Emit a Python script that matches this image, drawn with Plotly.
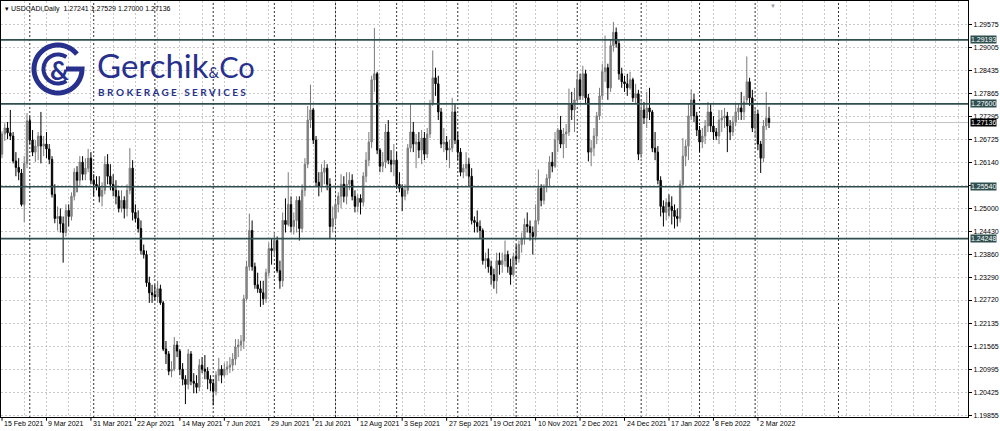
import numpy as np
import pandas as pd
import plotly.graph_objects as go

# ---------------- DATA (USDCAD daily) ----------------
open_ = [
    1.2635, 1.2685, 1.2700, 1.2688, 1.2680,
    1.2618, 1.2602, 1.2588, 1.2510, 1.2612,
    1.2718, 1.2670, 1.2640, 1.2655, 1.2680,
    1.2655, 1.2660, 1.2648, 1.2622, 1.2535,
    1.2475, 1.2480, 1.2462, 1.2440, 1.2495,
    1.2480, 1.2530, 1.2590, 1.2570, 1.2615,
    1.2585, 1.2600, 1.2625, 1.2570, 1.2560,
    1.2555, 1.2530, 1.2545, 1.2610, 1.2580,
    1.2560, 1.2545, 1.2530, 1.2500, 1.2520,
    1.2500, 1.2545, 1.2600, 1.2490, 1.2475,
    1.2450, 1.2395, 1.2385, 1.2315, 1.2290,
    1.2285, 1.2280, 1.2300, 1.2265, 1.2150,
    1.2138, 1.2095, 1.2100, 1.2160, 1.2145,
    1.2100, 1.2075, 1.2062, 1.2138, 1.2070,
    1.2065, 1.2055, 1.2110, 1.2100, 1.2095,
    1.2075, 1.2065, 1.2045, 1.2085, 1.2100,
    1.2085, 1.2100, 1.2105, 1.2110, 1.2125,
    1.2155, 1.2160, 1.2170, 1.2275, 1.2355,
    1.2445, 1.2355, 1.2310, 1.2300, 1.2290,
    1.2275, 1.2340, 1.2400, 1.2395, 1.2420,
    1.2345, 1.2320, 1.2470, 1.2460, 1.2510,
    1.2455, 1.2470, 1.2520, 1.2450, 1.2545,
    1.2610, 1.2720, 1.2745, 1.2670, 1.2565,
    1.2555, 1.2590, 1.2600, 1.2560, 1.2455,
    1.2475, 1.2510, 1.2530, 1.2560, 1.2530,
    1.2560, 1.2570, 1.2530, 1.2505, 1.2525,
    1.2515, 1.2580, 1.2620, 1.2665, 1.2820,
    1.2835, 1.2645, 1.2605, 1.2615, 1.2690,
    1.2620, 1.2610, 1.2620, 1.2560, 1.2550,
    1.2530, 1.2545, 1.2650, 1.2690, 1.2660,
    1.2665, 1.2645, 1.2675, 1.2635, 1.2685,
    1.2760, 1.2825, 1.2810, 1.2740, 1.2660,
    1.2665, 1.2645, 1.2650, 1.2740, 1.2670,
    1.2640, 1.2590, 1.2600, 1.2610, 1.2580,
    1.2470, 1.2465, 1.2455, 1.2445, 1.2370,
    1.2375, 1.2355, 1.2335, 1.2320, 1.2370,
    1.2360, 1.2370, 1.2385, 1.2355, 1.2335,
    1.2380, 1.2375, 1.2410, 1.2425, 1.2460,
    1.2455, 1.2440, 1.2430, 1.2470, 1.2550,
    1.2520, 1.2555, 1.2575, 1.2615, 1.2605,
    1.2670, 1.2695, 1.2660, 1.2685, 1.2690,
    1.2760, 1.2745, 1.2770, 1.2820, 1.2780,
    1.2835, 1.2775, 1.2640, 1.2650, 1.2680,
    1.2730, 1.2780, 1.2840, 1.2850, 1.2800,
    1.2905, 1.2938, 1.2910, 1.2835, 1.2815,
    1.2810, 1.2800, 1.2820, 1.2775, 1.2785,
    1.2635, 1.2745, 1.2725, 1.2750, 1.2740,
    1.2650, 1.2640, 1.2570, 1.2505, 1.2490,
    1.2515, 1.2505, 1.2495, 1.2480, 1.2475,
    1.2560, 1.2630, 1.2655, 1.2730, 1.2770,
    1.2730, 1.2695, 1.2665, 1.2680, 1.2705,
    1.2740, 1.2705, 1.2690, 1.2680, 1.2720,
    1.2725, 1.2730, 1.2705, 1.2690, 1.2715,
    1.2740, 1.2750, 1.2740, 1.2770, 1.2815,
    1.2775, 1.2700, 1.2735, 1.2660, 1.2625,
    1.2705, 1.27241,
]
high = [
    1.2692, 1.2712, 1.2715, 1.2745, 1.2690,
    1.2640, 1.2625, 1.2598, 1.2630, 1.2737,
    1.2730, 1.2695, 1.2670, 1.2690, 1.2740,
    1.2680, 1.2690, 1.2660, 1.2630, 1.2560,
    1.2505, 1.2500, 1.2480, 1.2510, 1.2510,
    1.2540, 1.2600, 1.2605, 1.2630, 1.2630,
    1.2625, 1.2648, 1.2640, 1.2585, 1.2580,
    1.2580, 1.2565, 1.2630, 1.2635, 1.2610,
    1.2585, 1.2570, 1.2545, 1.2545, 1.2530,
    1.2560, 1.2650, 1.2620, 1.2510, 1.2495,
    1.2470, 1.2410, 1.2395, 1.2330, 1.2310,
    1.2310, 1.2320, 1.2310, 1.2270, 1.2170,
    1.2145, 1.2120, 1.2180, 1.2170, 1.2150,
    1.2115, 1.2085, 1.2150, 1.2145, 1.2090,
    1.2085, 1.2125, 1.2130, 1.2135, 1.2105,
    1.2085, 1.2075, 1.2095, 1.2128, 1.2110,
    1.2115, 1.2120, 1.2130, 1.2140, 1.2175,
    1.2175, 1.2185, 1.2285, 1.2370, 1.2487,
    1.2470, 1.2365, 1.2340, 1.2320, 1.2320,
    1.2350, 1.2415, 1.2425, 1.2440, 1.2430,
    1.2370, 1.2490, 1.2525, 1.2590, 1.2530,
    1.2490, 1.2530, 1.2530, 1.2560, 1.2625,
    1.2755, 1.2808, 1.2750, 1.2680, 1.2590,
    1.2610, 1.2620, 1.2610, 1.2575, 1.2505,
    1.2520, 1.2540, 1.2585, 1.2580, 1.2590,
    1.2590, 1.2585, 1.2545, 1.2535, 1.2535,
    1.2590, 1.2640, 1.2690, 1.2830, 1.2949,
    1.2840, 1.2650, 1.2640, 1.2710, 1.2720,
    1.2645, 1.2660, 1.2640, 1.2590, 1.2560,
    1.2560, 1.2660, 1.2761, 1.2715, 1.2685,
    1.2690, 1.2695, 1.2690, 1.2700, 1.2770,
    1.2893, 1.2850, 1.2830, 1.2750, 1.2700,
    1.2680, 1.2670, 1.2775, 1.2760, 1.2690,
    1.2650, 1.2610, 1.2640, 1.2625, 1.2600,
    1.2480, 1.2495, 1.2470, 1.2450, 1.2390,
    1.2400, 1.2370, 1.2350, 1.2390, 1.2390,
    1.2390, 1.2420, 1.2395, 1.2375, 1.2390,
    1.2410, 1.2420, 1.2440, 1.2475, 1.2490,
    1.2470, 1.2455, 1.2510, 1.2597, 1.2560,
    1.2560, 1.2585, 1.2630, 1.2640, 1.2690,
    1.2700, 1.2730, 1.2700, 1.2710, 1.2798,
    1.2790, 1.2800, 1.2838, 1.2835, 1.2855,
    1.2845, 1.2785, 1.2670, 1.2700, 1.2740,
    1.2800, 1.2860, 1.2930, 1.2860, 1.2920,
    1.2964, 1.2950, 1.2920, 1.2850, 1.2830,
    1.2835, 1.2840, 1.2825, 1.2810, 1.2795,
    1.2770, 1.2765, 1.2790, 1.2800, 1.2745,
    1.2690, 1.2655, 1.2580, 1.2520, 1.2525,
    1.2535, 1.2530, 1.2510, 1.2500, 1.2570,
    1.2675, 1.2670, 1.2760, 1.2796, 1.2785,
    1.2740, 1.2705, 1.2700, 1.2720, 1.2765,
    1.2760, 1.2730, 1.2700, 1.2745, 1.2745,
    1.2750, 1.2740, 1.2720, 1.2730, 1.2760,
    1.2760, 1.2790, 1.2780, 1.2878, 1.2825,
    1.2795, 1.2750, 1.2745, 1.2668, 1.2720,
    1.2790, 1.27529,
]
low = [
    1.2625, 1.2668, 1.2672, 1.2670, 1.2612,
    1.2580, 1.2570, 1.2505, 1.2466, 1.2600,
    1.2660, 1.2630, 1.2615, 1.2620, 1.2612,
    1.2630, 1.2625, 1.2610, 1.2527, 1.2463,
    1.2445, 1.2440, 1.2365, 1.2430, 1.2455,
    1.2470, 1.2520, 1.2540, 1.2555, 1.2570,
    1.2570, 1.2590, 1.2560, 1.2530, 1.2545,
    1.2515, 1.2505, 1.2535, 1.2560, 1.2545,
    1.2530, 1.2510, 1.2490, 1.2490, 1.2475,
    1.2480, 1.2535, 1.2470, 1.2465, 1.2440,
    1.2385, 1.2375, 1.2305, 1.2265, 1.2265,
    1.2270, 1.2265, 1.2260, 1.2145, 1.2113,
    1.2085, 1.2080, 1.2095, 1.2130, 1.2085,
    1.2060, 1.2013, 1.2050, 1.2060, 1.2040,
    1.2040, 1.2045, 1.2090, 1.2075, 1.2050,
    1.2045, 1.2010, 1.2035, 1.2070, 1.2065,
    1.2080, 1.2085, 1.2090, 1.2095, 1.2110,
    1.2130, 1.2145, 1.2150, 1.2270, 1.2345,
    1.2345, 1.2300, 1.2290, 1.2255, 1.2260,
    1.2265, 1.2330, 1.2360, 1.2380, 1.2340,
    1.2300, 1.2305, 1.2440, 1.2455, 1.2440,
    1.2435, 1.2440, 1.2420, 1.2440, 1.2530,
    1.2600, 1.2700, 1.2660, 1.2555, 1.2530,
    1.2540, 1.2560, 1.2545, 1.2425, 1.2440,
    1.2460, 1.2490, 1.2500, 1.2515, 1.2510,
    1.2545, 1.2520, 1.2490, 1.2490, 1.2485,
    1.2505, 1.2565, 1.2605, 1.2650, 1.2790,
    1.2635, 1.2590, 1.2590, 1.2600, 1.2610,
    1.2590, 1.2580, 1.2550, 1.2540, 1.2493,
    1.2520, 1.2535, 1.2640, 1.2640, 1.2600,
    1.2625, 1.2610, 1.2620, 1.2625, 1.2675,
    1.2755, 1.2780, 1.2720, 1.2650, 1.2640,
    1.2620, 1.2600, 1.2640, 1.2660, 1.2620,
    1.2580, 1.2575, 1.2580, 1.2555, 1.2460,
    1.2440, 1.2440, 1.2425, 1.2360, 1.2350,
    1.2340, 1.2310, 1.2300, 1.2288, 1.2335,
    1.2340, 1.2355, 1.2340, 1.2310, 1.2330,
    1.2360, 1.2365, 1.2390, 1.2410, 1.2440,
    1.2420, 1.2385, 1.2420, 1.2460, 1.2505,
    1.2510, 1.2540, 1.2555, 1.2590, 1.2600,
    1.2640, 1.2650, 1.2625, 1.2650, 1.2680,
    1.2720, 1.2690, 1.2760, 1.2770, 1.2770,
    1.2760, 1.2617, 1.2605, 1.2630, 1.2660,
    1.2720, 1.2770, 1.2815, 1.2770, 1.2790,
    1.2890, 1.2900, 1.2820, 1.2800, 1.2790,
    1.2780, 1.2795, 1.2765, 1.2760, 1.2620,
    1.2625, 1.2710, 1.2700, 1.2720, 1.2640,
    1.2620, 1.2560, 1.2480, 1.2455, 1.2470,
    1.2480, 1.2460, 1.2450, 1.2455, 1.2465,
    1.2550, 1.2605, 1.2620, 1.2720, 1.2715,
    1.2680, 1.2640, 1.2650, 1.2660, 1.2690,
    1.2690, 1.2670, 1.2670, 1.2660, 1.2690,
    1.2700, 1.2640, 1.2670, 1.2680, 1.2705,
    1.2720, 1.2720, 1.2720, 1.2760, 1.2755,
    1.2690, 1.2675, 1.2645, 1.2588, 1.2615,
    1.2695, 1.27000,
]
close = [
    1.2685, 1.2700, 1.2688, 1.2680, 1.2618,
    1.2602, 1.2590, 1.2510, 1.2612, 1.2718,
    1.2670, 1.2640, 1.2655, 1.2680, 1.2655,
    1.2660, 1.2648, 1.2622, 1.2535, 1.2475,
    1.2480, 1.2462, 1.2440, 1.2495, 1.2480,
    1.2530, 1.2590, 1.2570, 1.2615, 1.2585,
    1.2600, 1.2625, 1.2570, 1.2560, 1.2555,
    1.2530, 1.2545, 1.2610, 1.2580, 1.2560,
    1.2545, 1.2530, 1.2500, 1.2520, 1.2500,
    1.2545, 1.2600, 1.2490, 1.2475, 1.2450,
    1.2395, 1.2385, 1.2315, 1.2290, 1.2285,
    1.2280, 1.2300, 1.2265, 1.2150, 1.2138,
    1.2095, 1.2100, 1.2160, 1.2145, 1.2100,
    1.2075, 1.2062, 1.2138, 1.2070, 1.2065,
    1.2055, 1.2110, 1.2100, 1.2095, 1.2075,
    1.2065, 1.2045, 1.2085, 1.2100, 1.2085,
    1.2100, 1.2105, 1.2110, 1.2125, 1.2155,
    1.2160, 1.2170, 1.2275, 1.2355, 1.2445,
    1.2355, 1.2310, 1.2300, 1.2290, 1.2275,
    1.2340, 1.2400, 1.2395, 1.2420, 1.2345,
    1.2320, 1.2470, 1.2460, 1.2510, 1.2455,
    1.2470, 1.2520, 1.2450, 1.2545, 1.2610,
    1.2720, 1.2745, 1.2670, 1.2565, 1.2555,
    1.2590, 1.2600, 1.2560, 1.2455, 1.2475,
    1.2510, 1.2530, 1.2560, 1.2530, 1.2560,
    1.2570, 1.2530, 1.2505, 1.2525, 1.2515,
    1.2580, 1.2620, 1.2665, 1.2820, 1.2835,
    1.2645, 1.2605, 1.2615, 1.2690, 1.2620,
    1.2610, 1.2620, 1.2560, 1.2550, 1.2530,
    1.2545, 1.2650, 1.2690, 1.2660, 1.2665,
    1.2645, 1.2675, 1.2635, 1.2685, 1.2760,
    1.2825, 1.2810, 1.2740, 1.2660, 1.2665,
    1.2645, 1.2650, 1.2740, 1.2670, 1.2640,
    1.2590, 1.2600, 1.2610, 1.2580, 1.2470,
    1.2465, 1.2455, 1.2445, 1.2370, 1.2375,
    1.2355, 1.2335, 1.2320, 1.2370, 1.2360,
    1.2370, 1.2385, 1.2355, 1.2335, 1.2380,
    1.2375, 1.2410, 1.2425, 1.2460, 1.2455,
    1.2440, 1.2430, 1.2470, 1.2550, 1.2520,
    1.2555, 1.2575, 1.2615, 1.2605, 1.2670,
    1.2695, 1.2660, 1.2685, 1.2690, 1.2760,
    1.2745, 1.2770, 1.2820, 1.2780, 1.2835,
    1.2775, 1.2640, 1.2650, 1.2680, 1.2730,
    1.2780, 1.2840, 1.2850, 1.2800, 1.2905,
    1.2938, 1.2910, 1.2835, 1.2815, 1.2810,
    1.2800, 1.2820, 1.2775, 1.2785, 1.2635,
    1.2745, 1.2725, 1.2750, 1.2740, 1.2650,
    1.2640, 1.2570, 1.2505, 1.2490, 1.2515,
    1.2505, 1.2495, 1.2480, 1.2475, 1.2560,
    1.2630, 1.2655, 1.2730, 1.2770, 1.2730,
    1.2695, 1.2665, 1.2680, 1.2705, 1.2740,
    1.2705, 1.2690, 1.2680, 1.2720, 1.2725,
    1.2730, 1.2705, 1.2690, 1.2715, 1.2740,
    1.2750, 1.2740, 1.2765, 1.2815, 1.2775,
    1.2700, 1.2735, 1.2660, 1.2625, 1.2705,
    1.2725, 1.27136,
]

first_day = "2021-02-15"
levels = [1.29193, 1.27600, 1.25540, 1.24248]
last_price = 1.27136
header_ohlc = ["1.27241", "1.27529", "1.27000", "1.27136"]
y_ticks = [1.29575, 1.29005, 1.28435, 1.27865, 1.27295, 1.26725, 1.26140,
           1.25570, 1.25000, 1.24430, 1.23860, 1.23290, 1.22720, 1.22135,
           1.21565, 1.20995, 1.20425, 1.19855]
hidden_tick = 1.25570  # covered by the 1.25540 level box in the reference
x_label_dates = ["2021-02-15", "2021-03-09", "2021-03-31", "2021-04-22",
                 "2021-05-14", "2021-06-07", "2021-06-29", "2021-07-21",
                 "2021-08-12", "2021-09-03", "2021-09-27", "2021-10-19",
                 "2021-11-10", "2021-12-02", "2021-12-24", "2022-01-17",
                 "2022-02-08", "2022-03-02"]
separator_dates = ["2021-03-01", "2021-04-01", "2021-05-03", "2021-06-01",
                   "2021-07-01", "2021-08-02", "2021-09-01", "2021-10-01",
                   "2021-11-01", "2021-12-01", "2022-01-03", "2022-02-01",
                   "2022-03-01", "2022-04-12"]

dates = pd.bdate_range(first_day, periods=len(close))
grid_dates = pd.bdate_range(first_day, periods=360)[::8]

# ---------------- STYLE ----------------
FONT = "Liberation Sans Narrow, Arial Narrow, Liberation Sans, Arial, sans-serif"
LOGO_FONT = "Lato, Open Sans, sans-serif"
LEVEL_COLOR = "#2F4F4F"
NAVY = "#27308d"
GRID = "#c9c9c9"

fig = go.Figure()
fig.add_trace(go.Candlestick(
    x=dates, open=open_, high=high, low=low, close=close,
    increasing=dict(line=dict(color="#7a7a7a", width=1), fillcolor="#8c8c8c"),
    decreasing=dict(line=dict(color="#000000", width=1), fillcolor="#000000"),
    whiskerwidth=0, showlegend=False, hoverinfo="skip",
))

shapes = []
for d in separator_dates:
    shapes.append(dict(type="line", xref="x", yref="paper", x0=d, x1=d, y0=0, y1=1,
                       line=dict(color="#333333", width=1, dash="2px,2px"), layer="below"))
for lv in levels:
    shapes.append(dict(type="line", xref="paper", yref="y", x0=0, x1=1, y0=lv, y1=lv,
                       line=dict(color=LEVEL_COLOR, width=1.6), layer="above"))
shapes.append(dict(type="line", xref="paper", yref="y", x0=0, x1=1, y0=last_price,
                   y1=last_price, line=dict(color="#c4c4c4", width=1), layer="below"))
for d in x_label_dates:
    shapes.append(dict(type="line", xref="x", yref="paper", x0=d, x1=d, y0=0, y1=-0.009,
                       line=dict(color="#000000", width=1)))

# ---- logo ----
W, H = 967.0, 416.0
def px(X):
    return (X - 1) / W
def py(Y):
    return 1 - (Y - 1) / H

cx, cy = 58, 69
def arc_path(r, a0, a1, extra=""):
    ang = np.radians(np.linspace(a0, a1, 60))
    pts = [f"{r*np.cos(a):.2f},{r*np.sin(a):.2f}" for a in ang]
    return "M" + " L".join(pts) + extra

shapes.append(dict(type="path", xref="paper", yref="paper", xsizemode="pixel",
                   ysizemode="pixel", xanchor=px(cx), yanchor=py(cy),
                   path=arc_path(24, 38, 360, " L8,0"),
                   line=dict(color=NAVY, width=5)))
shapes.append(dict(type="path", xref="paper", yref="paper", xsizemode="pixel",
                   ysizemode="pixel", xanchor=px(cx), yanchor=py(cy),
                   path=arc_path(14.5, 55, 305),
                   line=dict(color=NAVY, width=4)))

annotations = []
annotations.append(dict(xref="paper", yref="paper", x=px(cx + 1), y=py(cy + 1),
                        text="<b>&amp;</b>", showarrow=False, xanchor="center",
                        yanchor="middle", font=dict(family=LOGO_FONT, size=26, color=NAVY)))
annotations.append(dict(xref="paper", yref="paper", x=px(95), y=py(65), height=32,
                        valign="middle",
                        text="Gerchik<span style='font-size:15px'>&amp;</span>"
                             "<span style='font-size:29px'>Co</span>",
                        showarrow=False, xanchor="left", yanchor="middle",
                        font=dict(family=LOGO_FONT, size=33, color=NAVY)))
annotations.append(dict(xref="paper", yref="paper", x=px(96), y=py(92),
                        text="<b>B R O K E R A G E   S E R V I C E S</b>",
                        showarrow=False, xanchor="left", yanchor="middle",
                        font=dict(family=LOGO_FONT, size=10, color=NAVY)))

annotations.append(dict(xref="paper", yref="paper", x=0, y=1, xshift=2, yshift=-2,
                        xanchor="left", yanchor="top", showarrow=False,
                        text="▾ USDCADi,Daily  " + " ".join(header_ohlc),
                        font=dict(family=FONT, size=7, color="#000000")))
annotations.append(dict(xref="paper", yref="paper", x=px(773), y=1, yshift=1,
                        xanchor="center", yanchor="top", showarrow=False, text="▼",
                        font=dict(size=6, color="#9a9a9a")))

for d in x_label_dates:
    ts = pd.Timestamp(d)
    annotations.append(dict(xref="x", yref="paper", x=d, y=0, yshift=-1,
                            xanchor="left", yanchor="top", showarrow=False,
                            text=f"{ts.day} {ts.strftime('%b %Y')}",
                            font=dict(family=FONT, size=7, color="#000000")))

for lv in levels:
    annotations.append(dict(xref="paper", yref="y", x=1, y=lv, xshift=2,
                            xanchor="left", yanchor="middle", showarrow=False,
                            text=f"{lv:.5f}", bgcolor=LEVEL_COLOR, borderpad=0,
                            font=dict(family=FONT, size=7, color="#ffffff")))
annotations.append(dict(xref="paper", yref="y", x=1, y=last_price, xshift=2,
                        xanchor="left", yanchor="middle", showarrow=False,
                        text=f"{last_price:.5f}", bgcolor="#000000", borderpad=0,
                        font=dict(family=FONT, size=7, color="#ffffff")))

fig.update_layout(
    width=1000, height=431,
    margin=dict(l=1, r=32, t=1, b=14, autoexpand=False),
    paper_bgcolor="white", plot_bgcolor="white",
    shapes=shapes, annotations=annotations,
    showlegend=False,
    xaxis=dict(
        type="date",
        rangebreaks=[dict(bounds=["sat", "mon"])],
        range=["2021-02-12 15:21", "2022-06-15 14:24"],
        rangeslider=dict(visible=False),
        tickvals=list(grid_dates), showticklabels=False, ticks="",
        showgrid=True, gridcolor=GRID, griddash="2px,2px", gridwidth=1,
        showline=True, linecolor="#000000", linewidth=1, mirror=True,
        zeroline=False,
    ),
    yaxis=dict(
        side="right", range=[1.1981, 1.3016],
        tickvals=y_ticks,
        ticktext=["" if v == hidden_tick else f"{v:.5f}" for v in y_ticks],
        ticks="outside", ticklen=3, tickcolor="#000000",
        tickfont=dict(family=FONT, size=7, color="#000000"),
        showgrid=True, gridcolor=GRID, griddash="2px,2px", gridwidth=1,
        showline=True, linecolor="#000000", linewidth=1, mirror=True,
        zeroline=False,
    ),
)

fig.write_html("out.html", config={"displayModeBar": False},
               post_script="document.body.style.margin='0';")
